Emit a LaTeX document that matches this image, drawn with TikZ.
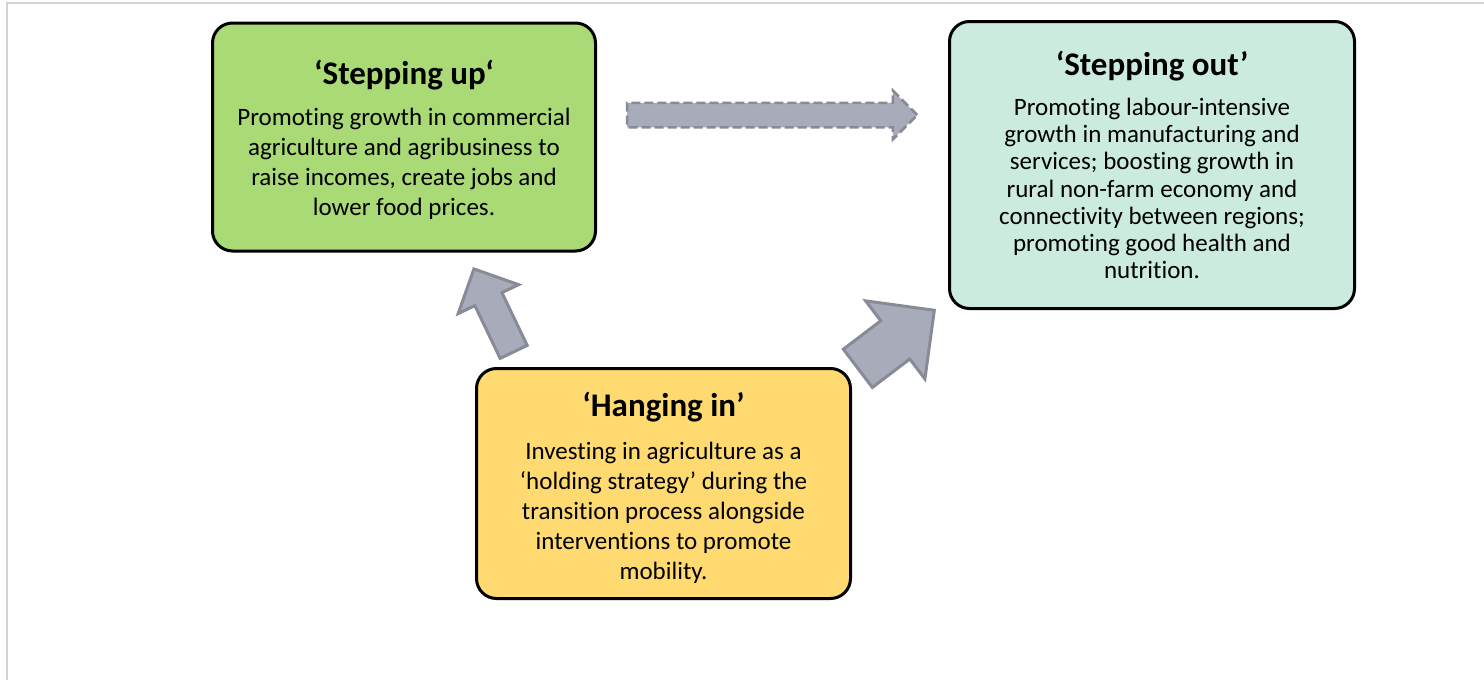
\documentclass[tikz,border=0pt]{standalone}
\usepackage{fontspec}
\setmainfont{Carlito}[Ligatures=NoCommon]
\usetikzlibrary{shapes.arrows}
\definecolor{upGreen}{RGB}{169,218,117}
\definecolor{outTeal}{RGB}{203,235,222}
\definecolor{hangYellow}{RGB}{254,218,112}
\definecolor{arrowFill}{RGB}{168,171,185}
\definecolor{arrowLine}{RGB}{136,139,151}
\definecolor{frameGrey}{RGB}{212,212,212}
% title, lift of the title line, gap below it, body
\newcommand{\stageNode}[4]{{\bfseries\fontsize{33}{36}\selectfont\rule{0pt}{#2}#1}\\[#3]#4}
\tikzset{
  stage/.style={draw=black, line width=3pt, rounded corners=20pt, align=center,
    font=\fontsize{25}{30}\selectfont, inner sep=0pt},
  blockArr/.style={single arrow, draw=arrowLine, fill=arrowFill, line width=3pt,
    inner xsep=0pt, single arrow head extend=#1, anchor=tip},
}

\begin{document}
\begin{tikzpicture}[x=1pt, y=-1pt]
    \useasboundingbox (0,0) rectangle (1484,680);
    \draw [frameGrey, line width=1.5pt] (7,680) |- (1484,3);

    \node [stage] [fill=upGreen] (up) at (404,137) [minimum width=383, minimum height=228]
        {\stageNode{‘Stepping up‘}{30pt}{11pt}{Promoting growth in commercial\\ agriculture and agribusiness to\\ raise incomes, create jobs and\\ lower food prices.}};
    \node [stage] [fill=outTeal] (out) at (1152,165) [minimum width=405, minimum height=287] [font=\fontsize{25}{27.2}\selectfont]
        {\stageNode{‘Stepping out’}{24pt}{13pt}{Promoting labour-intensive\\ growth in manufacturing and\\ services; boosting growth in\\ rural non-farm economy and\\ connectivity between  regions;\\ promoting good health and\\ nutrition.}};
    \node [stage] [fill=hangYellow] (hang) at (663.5,483.5) [minimum width=374, minimum height=230]
        {\stageNode{‘Hanging in’}{34pt}{13pt}{Investing in agriculture as a\\ ‘holding strategy’ during the\\ transition process alongside\\ interventions to promote\\ mobility.}};

    \node [blockArr=18.5] [minimum height=92, minimum width=64, inner ysep=13.5pt, rotate=115.6] (toup) at (473,267) {};
    \node [blockArr=25]   [minimum height=96, minimum width=95, inner ysep=22.5pt, rotate=37.2]  (toout) at (936,309) {};
    \node [blockArr=12]   [minimum height=290, minimum width=46, inner ysep=11pt, line width=2.5pt, dash pattern=on 9pt off 4pt] (upout) at (919,115) {};

\end{tikzpicture}
\end{document}
